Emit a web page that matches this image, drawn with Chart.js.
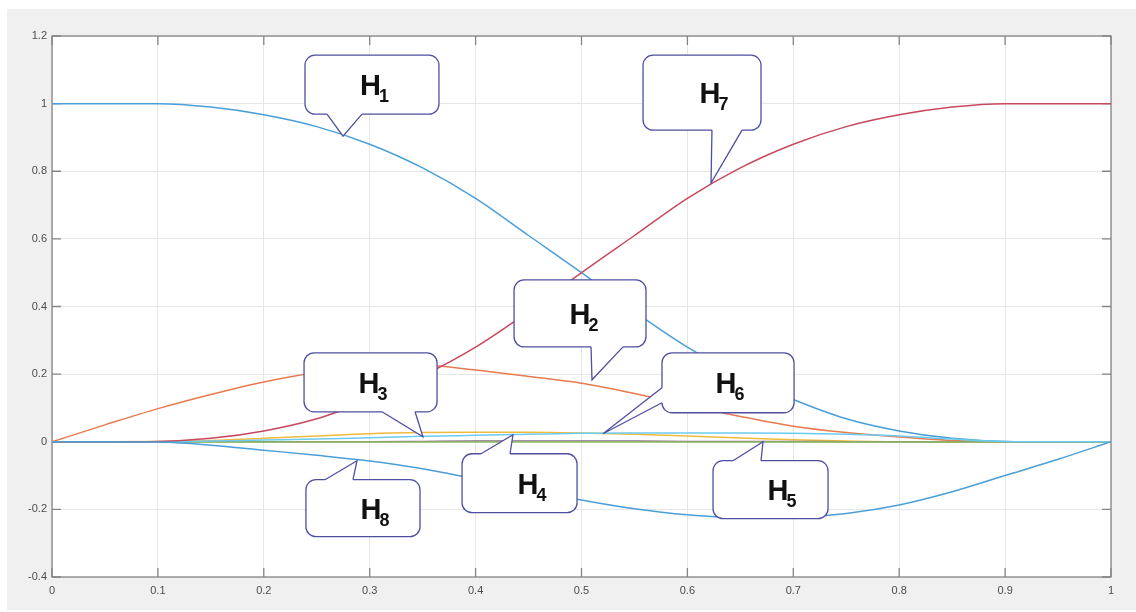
<!DOCTYPE html>
<html>
<head>
<meta charset="utf-8">
<script src="https://cdn.jsdelivr.net/npm/chart.js@4/dist/chart.umd.min.js"></script>
<style>
  html, body { margin: 0; padding: 0; background: #fff; }
  #chart { display: block; }
</style>
</head>
<body>
<canvas id="chart" width="1136" height="612"></canvas>
<script>
const xs = [0, 0.05, 0.1, 0.15, 0.2, 0.25, 0.3, 0.35, 0.4, 0.45, 0.5, 0.55, 0.6, 0.65, 0.7, 0.75, 0.8, 0.85, 0.9, 0.95, 1];

const h1 = [1, 1, 1, 0.99, 0.967, 0.932, 0.88, 0.81, 0.72, 0.61, 0.5, 0.385, 0.28, 0.195, 0.125, 0.068, 0.032, 0.01, 0.001, 0, 0];
const h2 = [0, 0.05, 0.098, 0.14, 0.177, 0.205, 0.222, 0.226, 0.212, 0.193, 0.173, 0.143, 0.108, 0.075, 0.046, 0.027, 0.014, 0.004, 0, 0, 0];
const h3 = [0, 0, 0.001, 0.004, 0.01, 0.017, 0.024, 0.027, 0.028, 0.028, 0.026, 0.022, 0.017, 0.011, 0.006, 0.002, 0, 0, 0, 0, 0];
const h4 = [0, 0, 0, 0, 0, 0, 0, 0.001, 0.002, 0.002, 0.002, 0.002, 0.001, 0.001, 0.001, 0, 0, 0, 0, 0, 0];
const h5 = [0, 0, 0, -0.001, -0.001, -0.001, -0.001, -0.001, -0.001, -0.001, -0.001, -0.001, -0.001, -0.001, -0.001, -0.001, -0.001, -0.001, 0, 0, 0];
const h6 = [0, 0, 0, 0.002, 0.005, 0.008, 0.012, 0.016, 0.019, 0.022, 0.025, 0.026, 0.026, 0.026, 0.025, 0.022, 0.017, 0.008, 0.001, 0, 0];
const h7 = [0, 0, 0.001, 0.01, 0.032, 0.068, 0.125, 0.195, 0.28, 0.385, 0.5, 0.61, 0.72, 0.81, 0.88, 0.932, 0.967, 0.99, 1, 1, 1];
const h8 = [0, 0, -0.001, -0.01, -0.025, -0.04, -0.057, -0.08, -0.11, -0.14, -0.172, -0.198, -0.216, -0.225, -0.224, -0.212, -0.187, -0.148, -0.1, -0.052, 0];

const seriesNames = ["H1", "H2", "H3", "H4", "H5", "H6", "H7", "H8"];
const seriesData = [h1, h2, h3, h4, h5, h6, h7, h8];
const lineColors = ["#4a9fd9", "#e87a50", "#f0bb3c", "#8a6a96", "#8cbf5a", "#6ccbf0", "#c8485f", "#4a9fd9"];

const xTicks = [0, 0.1, 0.2, 0.3, 0.4, 0.5, 0.6, 0.7, 0.8, 0.9, 1];
const yTicks = [-0.4, -0.2, 0, 0.2, 0.4, 0.6, 0.8, 1, 1.2];

// callout boxes in data units: box = [left, top, right, bottom], ptr = [base1, tip, base2]
const callouts = [
  { num: "1", box: [0.2389, 1.1433, 0.3654, 0.9690], ptr: [[0.2597, 0.9690], [0.2748, 0.9040], [0.2927, 0.9690]], tx: 0.3045 },
  { num: "7", box: [0.5581, 1.1433, 0.6695, 0.9217], ptr: [[0.6232, 0.9217], [0.6223, 0.7651], [0.6516, 0.9217]], tx: 0.6251 },
  { num: "2", box: [0.4363, 0.4786, 0.5609, 0.2806], ptr: [[0.5090, 0.2806], [0.5099, 0.1832], [0.5392, 0.2806]], tx: 0.5024 },
  { num: "6", box: [0.5760, 0.2629, 0.7007, 0.0857], ptr: [[0.5760, 0.1595], [0.5203, 0.0236], [0.5760, 0.1152]], tx: 0.6402 },
  { num: "3", box: [0.2380, 0.2629, 0.3636, 0.0886], ptr: [[0.3116, 0.0886], [0.3503, 0.0148], [0.3428, 0.0886]], tx: 0.3031 },
  { num: "4", box: [0.3872, -0.0355, 0.4958, -0.2097], ptr: [[0.4051, -0.0355], [0.4353, 0.0207], [0.4325, -0.0355]], tx: 0.4533 },
  { num: "8", box: [0.2398, -0.1123, 0.3475, -0.2806], ptr: [[0.2578, -0.1123], [0.2880, -0.0561], [0.2842, -0.1123]], tx: 0.3050 },
  { num: "5", box: [0.6242, -0.0561, 0.7328, -0.2275], ptr: [[0.6431, -0.0561], [0.6714, 0.0], [0.6695, -0.0561]], tx: 0.6893 }
];

const axisColor = "#858585";
const fontFamily = '"Liberation Sans", Arial, Helvetica, sans-serif';

function fmt(v) {
  return String(Math.round(v * 10) / 10);
}

const backgroundPlugin = {
  id: "background",
  beforeDraw(chart) {
    const { ctx, chartArea: a } = chart;
    ctx.save();
    ctx.fillStyle = "#ffffff";
    ctx.fillRect(0, 0, chart.width, chart.height);
    ctx.fillStyle = "#f0f0f0";
    ctx.fillRect(7, 9, chart.width - 7, chart.height - 11);
    ctx.fillStyle = "#ffffff";
    ctx.fillRect(a.left, a.top, a.right - a.left, a.bottom - a.top);
    ctx.restore();
  }
};

const framePlugin = {
  id: "frame",
  beforeDatasetsDraw(chart) {
    const { ctx, chartArea: a, scales } = chart;
    const len = 9;
    ctx.save();
    ctx.strokeStyle = axisColor;
    ctx.lineWidth = 1.3;
    ctx.strokeRect(a.left, a.top, a.right - a.left, a.bottom - a.top);
    ctx.beginPath();
    scales.x.ticks.forEach(t => {
      const px = scales.x.getPixelForValue(t.value);
      ctx.moveTo(px, a.bottom); ctx.lineTo(px, a.bottom - len);
      ctx.moveTo(px, a.top); ctx.lineTo(px, a.top + len);
    });
    scales.y.ticks.forEach(t => {
      const py = scales.y.getPixelForValue(t.value);
      ctx.moveTo(a.left, py); ctx.lineTo(a.left + len, py);
      ctx.moveTo(a.right, py); ctx.lineTo(a.right - len, py);
    });
    ctx.stroke();
    ctx.restore();
  }
};

function drawLabel(ctx, cx, cy, num) {
  const big = "bold 29px " + fontFamily;
  const small = "bold 18px " + fontFamily;
  ctx.font = big;
  const wH = ctx.measureText("H").width;
  ctx.font = small;
  const wN = ctx.measureText(num).width;
  const left = cx - (wH + wN - 2) / 2;
  const base = cy + 10.5;
  ctx.fillStyle = "#111111";
  ctx.textBaseline = "alphabetic";
  ctx.textAlign = "left";
  ctx.font = big;
  ctx.fillText("H", left, base);
  ctx.font = small;
  ctx.fillText(num, left + wH - 2, base + 7);
}

const calloutPlugin = {
  id: "callouts",
  afterDatasetsDraw(chart) {
    const { ctx, scales } = chart;
    const X = v => scales.x.getPixelForValue(v);
    const Y = v => scales.y.getPixelForValue(v);
    ctx.save();
    callouts.forEach(c => {
      const l = X(c.box[0]), t = Y(c.box[1]), r = X(c.box[2]), b = Y(c.box[3]);
      const p = c.ptr.map(q => [X(q[0]), Y(q[1])]);
      ctx.lineWidth = 1.3;
      ctx.strokeStyle = "#4f4fa3";
      ctx.fillStyle = "#ffffff";
      ctx.beginPath();
      ctx.roundRect(l, t, r - l, b - t, 10);
      ctx.fill();
      ctx.stroke();
      ctx.beginPath();
      ctx.moveTo(p[0][0], p[0][1]);
      ctx.lineTo(p[1][0], p[1][1]);
      ctx.lineTo(p[2][0], p[2][1]);
      ctx.closePath();
      ctx.fill();
      ctx.save();
      ctx.strokeStyle = "#ffffff";
      ctx.lineWidth = 2.6;
      ctx.beginPath();
      ctx.moveTo(p[0][0], p[0][1]);
      ctx.lineTo(p[2][0], p[2][1]);
      ctx.stroke();
      ctx.restore();
      ctx.beginPath();
      ctx.moveTo(p[0][0], p[0][1]);
      ctx.lineTo(p[1][0], p[1][1]);
      ctx.lineTo(p[2][0], p[2][1]);
      ctx.stroke();
      drawLabel(ctx, X(c.tx), (t + b) / 2, c.num);
    });
    ctx.restore();
  }
};

const datasets = seriesData.map((vals, i) => ({
  label: seriesNames[i],
  data: xs.map((x, j) => ({ x, y: vals[j] })),
  borderColor: lineColors[i],
  borderWidth: 1.5,
  pointRadius: 0,
  fill: false,
  cubicInterpolationMode: "monotone",
  order: seriesData.length - i
}));

new Chart(document.getElementById("chart"), {
  type: "line",
  data: { datasets },
  options: {
    responsive: false,
    animation: false,
    layout: { padding: { left: 0, right: 25, top: 36, bottom: 0 } },
    plugins: { legend: { display: false }, tooltip: { enabled: false } },
    scales: {
      x: {
        type: "linear",
        min: 0,
        max: 1,
        afterFit: s => { s.height = 35; },
        afterBuildTicks: s => { s.ticks = xTicks.map(v => ({ value: v })); },
        ticks: {
          callback: fmt,
          color: "#4d4d4d",
          font: { family: fontFamily, size: 11 },
          padding: 7,
          maxRotation: 0,
          autoSkip: false
        },
        grid: { color: "#e6e6e6", drawTicks: false, lineWidth: 1 },
        border: { display: false }
      },
      y: {
        min: -0.4,
        max: 1.2,
        afterFit: s => { s.width = 52; },
        afterBuildTicks: s => { s.ticks = yTicks.map(v => ({ value: v })); },
        ticks: {
          callback: fmt,
          color: "#4d4d4d",
          font: { family: fontFamily, size: 11 },
          padding: 5,
          autoSkip: false
        },
        grid: { color: "#e6e6e6", drawTicks: false, lineWidth: 1 },
        border: { display: false }
      }
    }
  },
  plugins: [backgroundPlugin, framePlugin, calloutPlugin]
});
</script>
</body>
</html>
